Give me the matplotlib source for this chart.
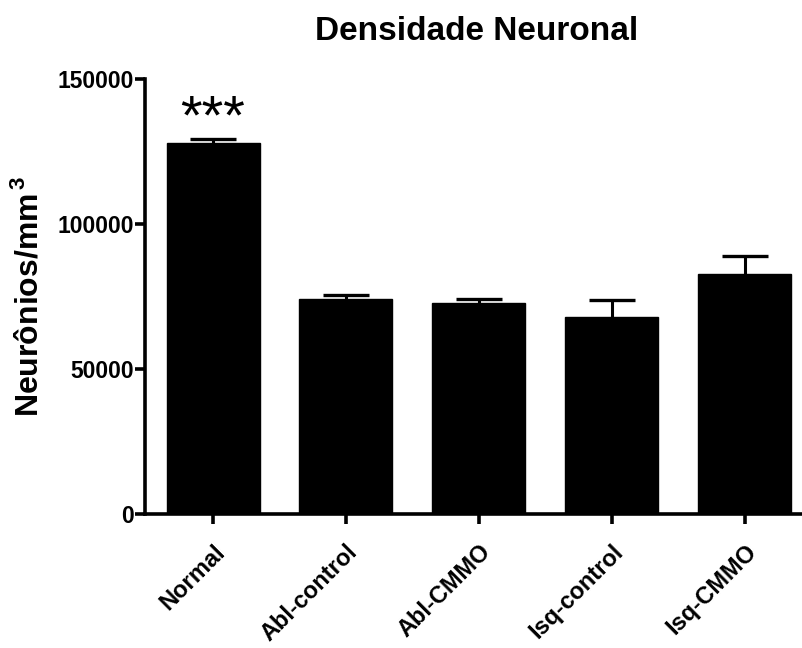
import matplotlib
matplotlib.use("Agg")
import matplotlib.pyplot as plt
import matplotlib.transforms as mtransforms
import numpy as np

plt.rcParams['font.family'] = ['Liberation Sans', 'DejaVu Sans']
plt.rcParams['mathtext.fontset'] = 'custom'
plt.rcParams['mathtext.bf'] = 'Liberation Sans:bold'
plt.rcParams['mathtext.rm'] = 'Liberation Sans'

categories = ["Normal", "Abl-control", "Abl-CMMO", "Isq-control", "Isq-CMMO"]
means = [127800, 74100, 72600, 68000, 82900]
errors = [1400, 1400, 1600, 5700, 6100]
yticks = [0, 50000, 100000, 150000]

fig = plt.figure(figsize=(8.03, 6.48), dpi=100)
ax = fig.add_axes([145/803, 1-514/648, 1-145/803, (514-79)/648])

x = np.arange(len(categories))
ax.bar(x, means, width=0.70, color='black', edgecolor='black', zorder=2)
eb = ax.errorbar(x, means, yerr=[np.zeros(len(errors)), errors], fmt='none',
                 ecolor='black', elinewidth=2.2, capsize=16.5, capthick=2.4, zorder=1)
eb[1][0].set_visible(False)

ax.set_xlim(-0.512, 4.44)
ax.set_ylim(0, 150000)
ax.set_yticks(yticks)
ax.set_yticklabels([str(v) for v in yticks], fontsize=16.5, fontweight='bold')
ax.set_xticks(x)
ax.set_xticklabels(categories, rotation=45, ha='right', rotation_mode='anchor',
                   fontsize=17, fontweight='bold')
offset = mtransforms.ScaledTranslation(5/100, 0, fig.dpi_scale_trans)
for lab in ax.get_xticklabels():
    lab.set_transform(lab.get_transform() + offset)

for s in ['top', 'right']:
    ax.spines[s].set_visible(False)
for s in ['left', 'bottom']:
    ax.spines[s].set_linewidth(2.6)
ax.tick_params(axis='both', width=2.6, length=7)
ax.tick_params(axis='y', pad=1)
ax.tick_params(axis='x', pad=12)

ax.set_ylabel("Neurônios/mm$^{\\,\\mathbf{3}}$", fontsize=23, fontweight='bold', labelpad=9)
fig.text(477/803, 1-32/648, "Densidade Neuronal", fontsize=24, fontweight='bold',
         ha='center', va='center')
ax.text(0, 136000, "***", fontsize=40, ha='center', va='center')

fig.savefig("out.png", dpi=100)
